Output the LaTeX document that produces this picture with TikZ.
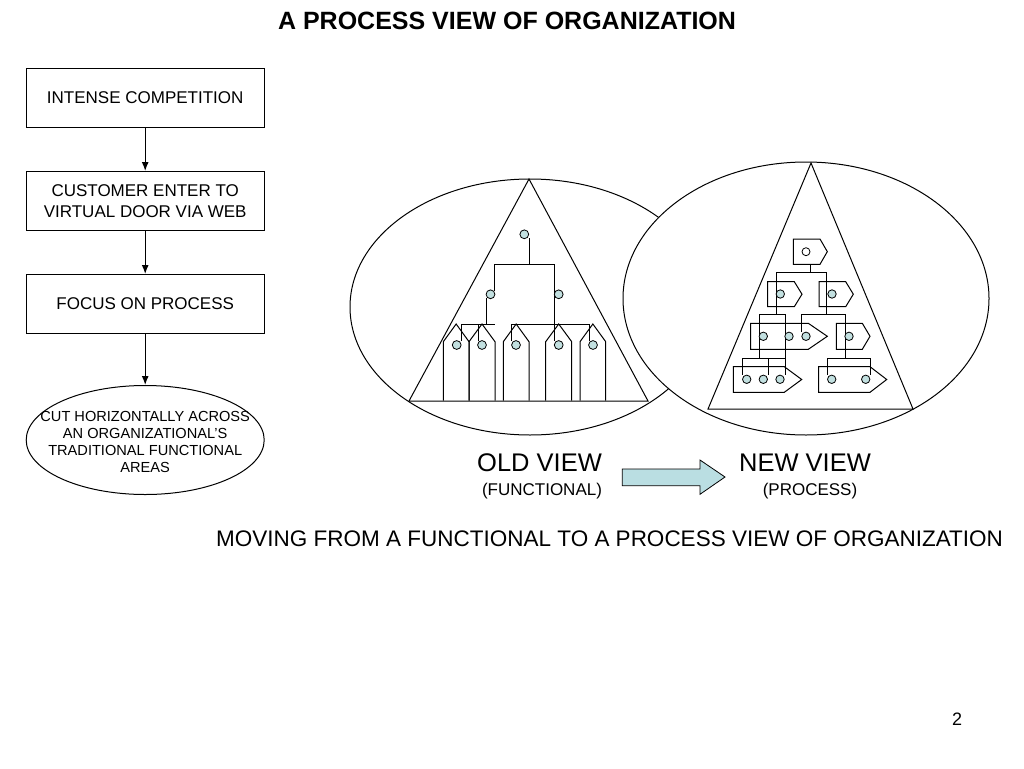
\documentclass[tikz,border=0pt]{standalone}
\usepackage{fontspec}
\setmainfont{Liberation Sans}
\usepackage{xcolor}
\usepackage{tikz}
\usetikzlibrary{positioning}
\usetikzlibrary{arrows.meta}
\usetikzlibrary{shapes.geometric}

\definecolor{dotfill}{RGB}{194,224,224}
\definecolor{arrowfill}{RGB}{186,222,226}

% house shape of the functional view: left, right
\newcommand{\funchouse}[2]{\draw (#1,400.7) -- (#1,341.7) -- ({(#1+#2)/2},324) -- (#2,341.7) -- (#2,400.7);}
% tag shape of the process view: left, right, tip, top, bottom
\newcommand{\proctag}[5]{\draw (#1,#4) -- (#2,#4) -- (#3,{(#4+#5)/2}) -- (#2,#5) -- (#1,#5) -- cycle;}

\begin{document}
\begin{tikzpicture}[x=1pt, y=-1pt, line width=1pt,
  box/.style={draw, minimum width=238pt, minimum height=59pt, align=center, font=\fontsize{17}{21.6}\selectfont},
  flow/.style={-{Latex[length=9pt,width=7pt]}, line width=1.2pt},
  unit/.style={draw, line width=0.8pt, fill=dotfill}]
\useasboundingbox (0,0) rectangle (1024,768);

\node (title) [anchor=base, font=\fontsize{25}{29}\selectfont\bfseries] at (507,29.3) {A PROCESS VIEW OF ORGANIZATION};

\node (intense competition) [box] at (145.2,98) {INTENSE COMPETITION};
\node (customer enter) [box, below=43pt of intense competition] {CUSTOMER ENTER TO\\VIRTUAL DOOR VIA WEB};
\node (focus process) [box, below=43pt of customer enter] {FOCUS ON PROCESS};
\node (cut horizontally) [draw, ellipse, inner sep=0pt, minimum width=238pt, minimum height=109pt, below=51pt of focus process] {};
\node (cut text) [align=center, font=\fontsize{14.6}{17.3}\selectfont] at ([yshift=-2pt]cut horizontally.center) {CUT HORIZONTALLY ACROSS\\AN ORGANIZATIONAL'S\\TRADITIONAL FUNCTIONAL\\AREAS};

\draw [flow] (intense competition.south) -- (customer enter.north);
\draw [flow] (customer enter.south) -- (focus process.north);
\draw [flow] (focus process.south) -- (cut horizontally.north);

% the two views
\draw (530,307) ellipse [x radius=180, y radius=128];
\draw [fill=white] (806,298.5) ellipse [x radius=183, y radius=136.5];
\draw (529,179) -- (409,401) -- (648,401) -- cycle;
\draw (811,163) -- (708,409) -- (913,409) -- cycle;

% old view (functional)
\draw (529,238) -- (529,264.3) (494.3,264.3) -- (554.3,264.3);
\draw (494.3,264.3) -- (494.3,290.5) (486.3,298) -- (486.3,324);
\draw (461,324) -- (495,324) (461,324) -- (461,341) (478,324) -- (478,341);
\draw (554.3,264.3) -- (554.3,341) (511.7,324) -- (589,324) (511.7,324) -- (511.7,341) (589,324) -- (589,341);
\funchouse{443.3}{469}
\funchouse{469}{495}
\funchouse{503.3}{529}
\funchouse{545.7}{571.7}
\funchouse{580}{605.7}
\draw [unit] (524.3,234.3) circle [radius=4.4];
\draw [unit] (490.5,294.3) circle [radius=4.4];
\draw [unit] (558.7,294.3) circle [radius=4.4];
\foreach \x in {456.7,482,516,558.7,593}
  \draw [unit] (\x,345) circle [radius=4.4];

% new view (process)
\draw (810.3,264.3) -- (810.3,272.7) (776,272.7) -- (826.7,272.7);
\draw (776,272.7) -- (776,314) (826.7,272.7) -- (826.7,314);
\draw (759.3,314) -- (785,314) (759.3,314) -- (759.3,358.3) (785,314) -- (785,375);
\draw (801.7,314) -- (845,314) (801.7,314) -- (801.7,332) (845,314) -- (845,358.3);
\draw (742.7,358.3) -- (785,358.3) (742.7,358.3) -- (742.7,375) (768,358.3) -- (768,375);
\draw (827.7,358.3) -- (870,358.3) (827.7,358.3) -- (827.7,375) (870,358.3) -- (870,375);
\proctag{793.3}{820}{827.3}{239}{264.3}
\proctag{767.7}{794.3}{802}{281.7}{306.7}
\proctag{819}{845.7}{853.3}{281.7}{306.7}
\proctag{750.7}{808.3}{827.3}{323.3}{349.3}
\proctag{836.3}{862.3}{870}{323.3}{349.3}
\proctag{733.3}{784.3}{801.7}{366.7}{392.3}
\proctag{818.7}{870}{886.7}{366.7}{392.3}
\draw [line width=0.8pt, fill=white] (806,251.7) circle [radius=4];
\draw [unit] (780.3,294) circle [radius=4.2];
\draw [unit] (832,294) circle [radius=4.2];
\foreach \x in {763.3,789,806,849}
  \draw [unit] (\x,336.3) circle [radius=4.2];
\foreach \x in {746.7,763.3,780,831.7,865.7}
  \draw [unit] (\x,379.3) circle [radius=4.2];

% labels
\node (old view) [anchor=base, font=\fontsize{25.5}{30}\selectfont] at (539.5,471.7) {OLD VIEW};
\node (functional) [anchor=base, font=\fontsize{17}{20}\selectfont] at (542,495) {(FUNCTIONAL)};
\node (new view) [anchor=base, font=\fontsize{25.5}{30}\selectfont] at (805,471.7) {NEW VIEW};
\node (process) [anchor=base, font=\fontsize{17}{20}\selectfont] at (810,495) {(PROCESS)};
\draw [line width=0.8pt, fill=arrowfill] (622.3,469) -- (700,469) -- (700,460) -- (725,477) -- (700,494.3) -- (700,485.7) -- (622.3,485.7) -- cycle;

\node (moving) [anchor=base, font=\fontsize{22.5}{26}\selectfont] at (609.5,546.7) {MOVING FROM A FUNCTIONAL TO A PROCESS VIEW OF ORGANIZATION};
\node (page) [anchor=base, font=\fontsize{18}{22}\selectfont] at (957,725) {2};

\end{tikzpicture}
\end{document}
